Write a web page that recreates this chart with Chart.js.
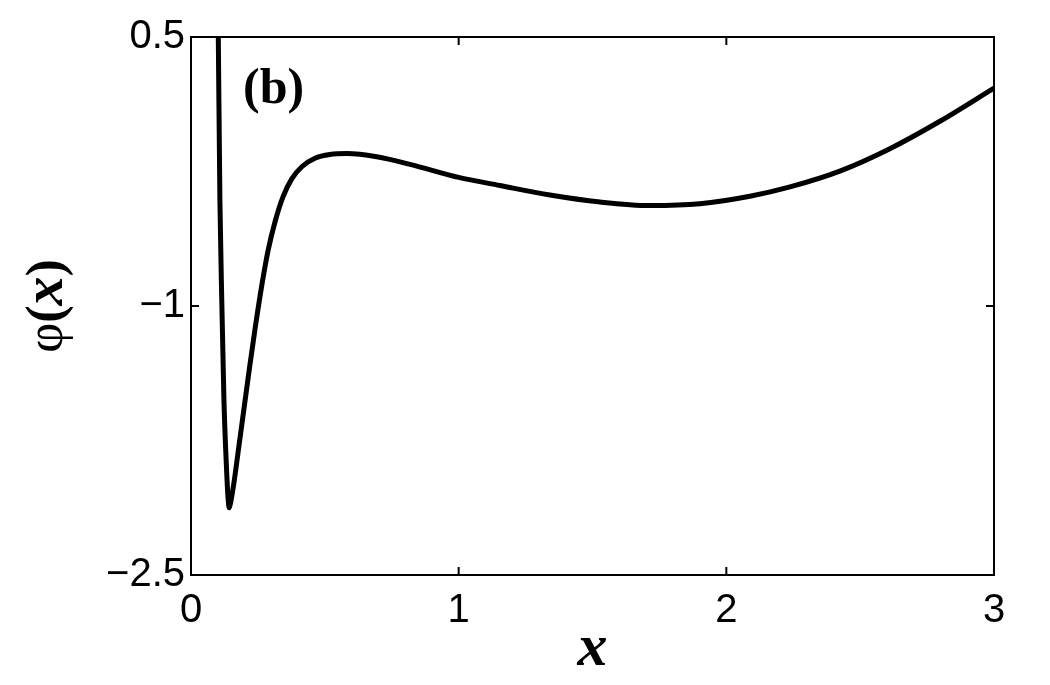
<!DOCTYPE html>
<html lang="en">
<head>
    <meta charset="UTF-8">
    <title>phi(x)</title>
    <script src="https://cdn.jsdelivr.net/npm/chart.js"></script>
    <style>
        body { margin: 0; background: #fff; }
        .chart-container { width: 1050px; height: 685px; position: relative; }
    </style>
</head>
<body>
    <div class="chart-container">
        <canvas id="phiChart"></canvas>
    </div>

    <script>
        // points
        const xValues = [0.102, 0.108, 0.115, 0.123, 0.129, 0.134, 0.137, 0.140, 0.142, 0.145, 0.150, 0.160,
                         0.180, 0.200, 0.220, 0.240, 0.265, 0.288, 0.314, 0.344, 0.377, 0.415, 0.463, 0.519,
                         0.583, 0.694, 0.818, 1.000, 1.154, 1.341, 1.528, 1.715, 1.901, 2.088, 2.238, 2.424,
                         2.611, 2.798, 3.000];
        const phiValues = [0.50, -0.41, -0.97, -1.52, -1.78, -1.95, -2.04, -2.10, -2.125, -2.115, -2.08, -1.99,
                           -1.77, -1.55, -1.33, -1.12, -0.88, -0.69, -0.53, -0.39, -0.29, -0.222, -0.176, -0.155,
                           -0.150, -0.168, -0.210, -0.283, -0.328, -0.381, -0.420, -0.440, -0.430, -0.388, -0.336, -0.248,
                           -0.123, 0.030, 0.215];

        const xTicks = [0, 1, 2, 3];
        const xTickLabels = ['0', '1', '2', '3'];
        const yTicks = [-2.5, -1, 0.5];
        const yTickLabels = ['\u22122.5', '\u22121', '0.5'];

        const points = xValues.map((x, i) => ({ x: x, y: phiValues[i] }));

        // box, inward ticks on all sides, panel label and y title
        const framePlugin = {
            id: 'frame',
            afterDraw(chart) {
                const ctx = chart.ctx;
                const a = chart.chartArea;
                const xs = chart.scales.x, ys = chart.scales.y;
                const len = 8;
                ctx.save();
                ctx.strokeStyle = '#000';
                ctx.lineWidth = 2;
                ctx.strokeRect(a.left, a.top, a.right - a.left, a.bottom - a.top);
                ctx.beginPath();
                xTicks.forEach(v => {
                    const px = xs.getPixelForValue(v);
                    ctx.moveTo(px, a.bottom); ctx.lineTo(px, a.bottom - len);
                    ctx.moveTo(px, a.top); ctx.lineTo(px, a.top + len);
                });
                yTicks.forEach(v => {
                    const py = ys.getPixelForValue(v);
                    ctx.moveTo(a.left, py); ctx.lineTo(a.left + len, py);
                    ctx.moveTo(a.right, py); ctx.lineTo(a.right - len, py);
                });
                ctx.stroke();

                ctx.fillStyle = '#000';
                ctx.textBaseline = 'alphabetic';
                ctx.font = 'bold 50px "Liberation Serif"';
                ctx.fillText('(b)', a.left + 52, a.top + 66);

                // y title: φ regular, (x) bold with italic x
                const parts = [
                    ['\u03C6', '52px "Liberation Serif"'],
                    ['(', 'bold 52px "Liberation Serif"'],
                    ['x', 'bold italic 58px "Liberation Serif"'],
                    [')', 'bold 52px "Liberation Serif"']
                ];
                let total = 0;
                parts.forEach(p => { ctx.font = p[1]; total += ctx.measureText(p[0]).width; });
                ctx.translate(62, (a.top + a.bottom) / 2);
                ctx.rotate(-Math.PI / 2);
                let cx = -total / 2;
                parts.forEach(p => {
                    ctx.font = p[1];
                    ctx.fillText(p[0], cx, 0);
                    cx += ctx.measureText(p[0]).width;
                });
                ctx.restore();
            }
        };

        const ctx = document.getElementById('phiChart').getContext('2d');
        const phiChart = new Chart(ctx, {
            type: 'line',
            data: {
                datasets: [{
                    data: points,
                    borderColor: '#000',
                    borderWidth: 5,
                    borderJoinStyle: 'round',
                    pointRadius: 0,
                    fill: false,
                    cubicInterpolationMode: 'monotone'
                }]
            },
            options: {
                responsive: true,
                maintainAspectRatio: false,
                animation: false,
                layout: { padding: { top: 37, right: 56, left: 0, bottom: 0 } },
                plugins: {
                    legend: { display: false },
                    tooltip: { enabled: false }
                },
                scales: {
                    x: {
                        type: 'linear',
                        min: 0,
                        max: 3,
                        afterBuildTicks: s => { s.ticks = xTicks.map(v => ({ value: v })); },
                        afterFit: s => { s.height = 110; },
                        grid: { display: false, drawTicks: false },
                        border: { display: false },
                        ticks: {
                            color: '#000',
                            padding: 12,
                            maxRotation: 0,
                            font: { size: 40, family: '"Liberation Sans", Arial, sans-serif' },
                            callback: v => xTickLabels[xTicks.indexOf(v)]
                        },
                        title: {
                            display: true,
                            text: 'x',
                            color: '#000',
                            padding: { top: 0, bottom: 0 },
                            font: { size: 60, weight: 'bold', style: 'italic', family: '"Liberation Serif", serif' }
                        }
                    },
                    y: {
                        min: -2.5,
                        max: 0.5,
                        afterBuildTicks: s => { s.ticks = yTicks.map(v => ({ value: v })); },
                        afterFit: s => { s.width = 191; },
                        grid: { display: false, drawTicks: false },
                        border: { display: false },
                        ticks: {
                            color: '#000',
                            padding: 6,
                            font: { size: 40, family: '"Liberation Sans", Arial, sans-serif' },
                            callback: v => yTickLabels[yTicks.indexOf(v)]
                        }
                    }
                }
            },
            plugins: [framePlugin]
        });
    </script>
</body>
</html>
